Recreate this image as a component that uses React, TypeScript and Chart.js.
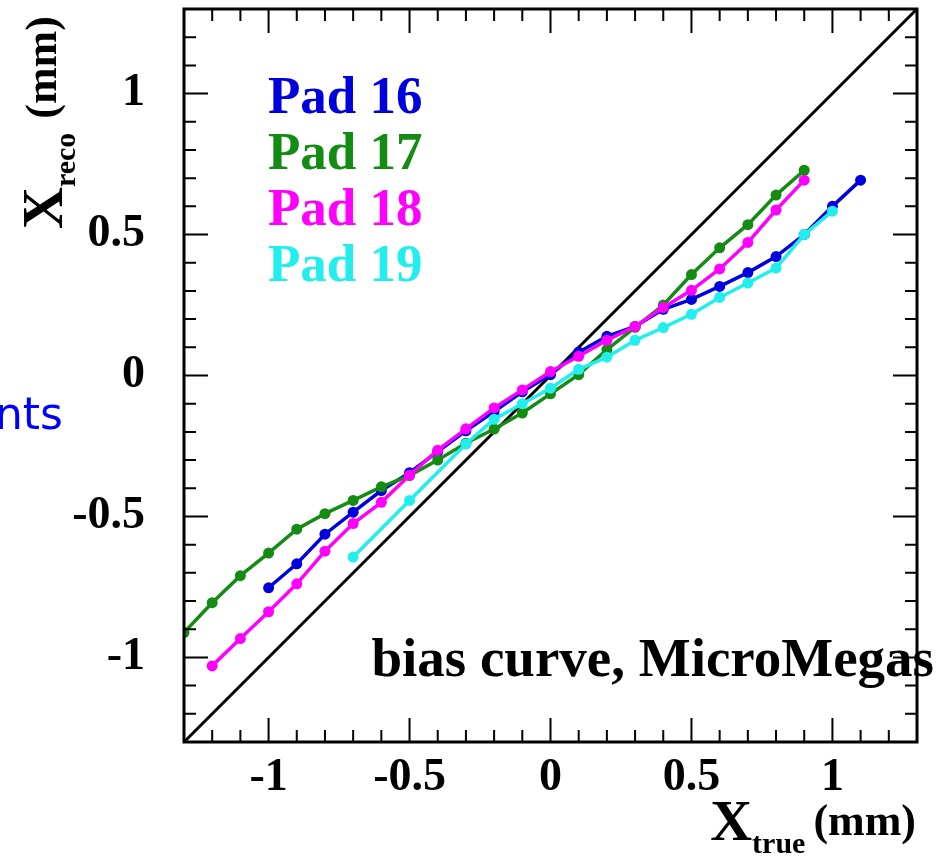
import React, { useEffect, useRef } from "react";
import { Chart, registerables } from "chart.js";

Chart.register(...registerables);

// ---- data ----
const axisMin = -1.3;
const axisMax = 1.3;
const xTickValues = [-1, -0.5, 0, 0.5, 1];
const yTickValues = [-1, -0.5, 0, 0.5, 1];

const seriesNames = ["Pad 16", "Pad 17", "Pad 18", "Pad 19"];
const seriesColors = ["#0000dd", "#148c14", "#ff00ff", "#22eeee"];

const pad16X = [-1.0, -0.9, -0.8, -0.7, -0.6, -0.5, -0.4, -0.3, -0.2, -0.1, 0.0, 0.1, 0.2, 0.3, 0.4, 0.5, 0.6, 0.7, 0.8, 0.9, 1.0, 1.1];
const pad16Y = [-0.753, -0.668, -0.563, -0.485, -0.408, -0.345, -0.27, -0.196, -0.128, -0.058, 0.003, 0.083, 0.139, 0.174, 0.235, 0.27, 0.316, 0.365, 0.422, 0.5, 0.6, 0.693];

const pad17X = [-1.3, -1.2, -1.1, -1.0, -0.9, -0.8, -0.7, -0.6, -0.5, -0.4, -0.3, -0.2, -0.1, 0.0, 0.1, 0.2, 0.3, 0.4, 0.5, 0.6, 0.7, 0.8, 0.9];
const pad17Y = [-0.912, -0.806, -0.71, -0.63, -0.545, -0.49, -0.443, -0.395, -0.355, -0.3, -0.24, -0.19, -0.133, -0.065, 0.003, 0.092, 0.171, 0.25, 0.358, 0.453, 0.535, 0.64, 0.728];

const pad18X = [-1.2, -1.1, -1.0, -0.9, -0.8, -0.7, -0.6, -0.5, -0.4, -0.3, -0.2, -0.1, 0.0, 0.1, 0.2, 0.3, 0.4, 0.5, 0.6, 0.7, 0.8, 0.9];
const pad18Y = [-1.03, -0.933, -0.838, -0.739, -0.623, -0.525, -0.45, -0.354, -0.265, -0.189, -0.115, -0.051, 0.014, 0.068, 0.125, 0.174, 0.241, 0.302, 0.378, 0.472, 0.587, 0.693];

const pad19X = [-0.7, -0.5, -0.3, -0.2, -0.1, 0.0, 0.1, 0.2, 0.3, 0.4, 0.5, 0.6, 0.7, 0.8, 0.9, 1.0];
const pad19Y = [-0.644, -0.443, -0.243, -0.155, -0.1, -0.045, 0.022, 0.065, 0.125, 0.17, 0.217, 0.277, 0.328, 0.381, 0.5, 0.583];

const annotationText = "bias curve, MicroMegas";
const sideText = "nts";

const SERIF = '"Liberation Serif", "Times New Roman", serif';

function toPoints(xs: number[], ys: number[]) {
  return xs.map((x, i) => ({ x, y: ys[i] }));
}

const rootStylePlugin = {
  id: "rootStyle",
  afterDatasetsDraw(chart: any) {
    const { ctx, chartArea: a, scales } = chart;
    const x = scales.x;
    const y = scales.y;
    ctx.save();
    // inward ticks on all four sides
    ctx.strokeStyle = "#000";
    ctx.lineWidth = 2;
    for (let k = -12; k <= 12; k++) {
      const v = k / 10;
      const len = k % 5 === 0 ? 24 : 12;
      const px = x.getPixelForValue(v);
      const py = y.getPixelForValue(v);
      ctx.beginPath();
      ctx.moveTo(px, a.bottom);
      ctx.lineTo(px, a.bottom - len);
      ctx.moveTo(px, a.top);
      ctx.lineTo(px, a.top + len);
      ctx.moveTo(a.left, py);
      ctx.lineTo(a.left + len, py);
      ctx.moveTo(a.right, py);
      ctx.lineTo(a.right - len, py);
      ctx.stroke();
    }
    ctx.lineWidth = 3;
    ctx.strokeRect(a.left, a.top, a.right - a.left, a.bottom - a.top);

    // legend texts
    ctx.font = `bold 53px ${SERIF}`;
    ctx.textAlign = "left";
    ctx.textBaseline = "alphabetic";
    const baselines = [113, 169, 225, 281];
    seriesNames.forEach((name, i) => {
      ctx.fillStyle = seriesColors[i];
      ctx.fillText(name, 268, baselines[i]);
    });

    // annotation
    ctx.fillStyle = "#000";
    ctx.font = `bold 55px ${SERIF}`;
    ctx.textAlign = "right";
    ctx.fillText(annotationText, 934, 676);
    ctx.restore();
  },
  afterDraw(chart: any) {
    const { ctx } = chart;
    ctx.save();
    ctx.fillStyle = "#000";
    ctx.textBaseline = "alphabetic";
    ctx.textAlign = "left";

    // Y axis title (rotated)
    ctx.save();
    ctx.translate(62, 229);
    ctx.rotate(-Math.PI / 2);
    ctx.font = `bold 58px ${SERIF}`;
    ctx.fillText("X", 0, 0);
    let w = ctx.measureText("X").width;
    ctx.font = `bold 30px ${SERIF}`;
    ctx.fillText("reco", w, 13);
    w += ctx.measureText("reco").width + 14;
    ctx.font = `bold 44px ${SERIF}`;
    ctx.fillText("(mm)", w, -6);
    ctx.restore();

    // X axis title
    ctx.font = `bold 44px ${SERIF}`;
    const mmW = ctx.measureText("(mm)").width;
    ctx.font = `bold 30px ${SERIF}`;
    const subW = ctx.measureText("true").width;
    ctx.font = `bold 58px ${SERIF}`;
    const xW = ctx.measureText("X").width;
    const right = 916;
    const startX = right - mmW - 8 - subW - xW;
    ctx.fillText("X", startX, 840);
    ctx.font = `bold 30px ${SERIF}`;
    ctx.fillText("true", startX + xW, 853);
    ctx.font = `bold 44px ${SERIF}`;
    ctx.fillText("(mm)", right - mmW, 835);

    // partial slide text on the left
    ctx.fillStyle = "#0000ff";
    ctx.font = `44px "DejaVu Sans", sans-serif`;
    ctx.textAlign = "right";
    ctx.fillText(sideText, 63, 429);
    ctx.restore();
  },
};

export default function App() {
  const canvasRef = useRef<HTMLCanvasElement | null>(null);

  useEffect(() => {
    const canvas = canvasRef.current;
    if (!canvas) return;
    const diagonal = [axisMin, axisMax].map((v) => ({ x: v, y: v }));
    const seriesData = [
      toPoints(pad16X, pad16Y),
      toPoints(pad17X, pad17Y),
      toPoints(pad18X, pad18Y),
      toPoints(pad19X, pad19Y),
    ];
    const orders = [4, 3, 2, 1];
    const datasets: any[] = seriesData.map((data, i) => ({
      label: seriesNames[i],
      data,
      borderColor: seriesColors[i],
      backgroundColor: seriesColors[i],
      pointBackgroundColor: seriesColors[i],
      pointBorderColor: seriesColors[i],
      pointBorderWidth: 0,
      pointRadius: 5.5,
      borderWidth: 3.5,
      tension: 0,
      fill: false,
      order: orders[i],
    }));
    datasets.push({
      label: "y = x",
      data: diagonal,
      borderColor: "#000",
      borderWidth: 3,
      pointRadius: 0,
      fill: false,
      order: 10,
    });

    const tickFont = { family: SERIF, size: 46, weight: "bold" as const };

    const chart = new Chart(canvas, {
      type: "line",
      data: { datasets },
      options: {
        animation: false,
        responsive: false,
        devicePixelRatio: 1,
        layout: { padding: { top: 9, right: 30, left: 0, bottom: 0 } },
        plugins: { legend: { display: false }, tooltip: { enabled: false } },
        scales: {
          x: {
            type: "linear",
            min: axisMin,
            max: axisMax,
            grid: { display: false, drawTicks: false },
            border: { display: false },
            ticks: {
              font: tickFont,
              color: "#000",
              padding: 9,
              maxRotation: 0,
              autoSkip: false,
              callback: (v: any) => String(v),
            },
            afterBuildTicks: (scale: any) => {
              scale.ticks = xTickValues.map((v) => ({ value: v }));
            },
            afterFit: (scale: any) => {
              scale.height = 124;
              scale.paddingLeft = 0;
              scale.paddingRight = 0;
              scale.paddingTop = 0;
              scale.paddingBottom = 0;
            },
          },
          y: {
            type: "linear",
            min: axisMin,
            max: axisMax,
            grid: { display: false, drawTicks: false },
            border: { display: false },
            ticks: {
              font: tickFont,
              color: "#000",
              padding: 39,
              autoSkip: false,
              callback: (v: any) => String(v),
            },
            afterBuildTicks: (scale: any) => {
              scale.ticks = yTickValues.map((v) => ({ value: v }));
            },
            afterFit: (scale: any) => {
              scale.width = 184;
              scale.paddingLeft = 0;
              scale.paddingRight = 0;
              scale.paddingTop = 0;
              scale.paddingBottom = 0;
            },
          },
        },
      },
      plugins: [rootStylePlugin],
    });
    return () => chart.destroy();
  }, []);

  return (
    <div style={{ position: "fixed", left: 0, top: 0, width: 947, height: 866, background: "#fff" }}>
      <canvas ref={canvasRef} width={947} height={866} style={{ display: "block" }} />
    </div>
  );
}
